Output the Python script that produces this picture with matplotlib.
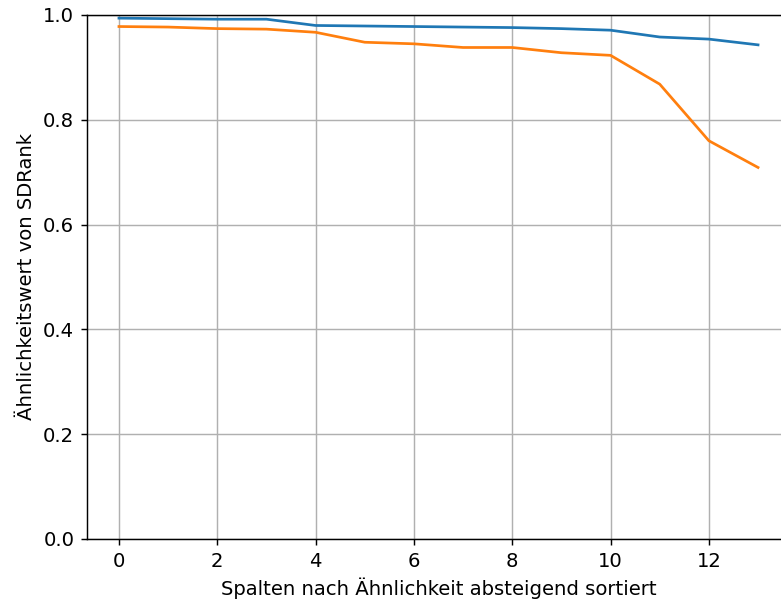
import matplotlib
matplotlib.use("Agg")
import matplotlib.pyplot as plt

x = list(range(14))
blue_vals = [0.994, 0.993, 0.992, 0.992, 0.980, 0.979, 0.978, 0.977,
             0.976, 0.974, 0.971, 0.958, 0.954, 0.943]
orange_vals = [0.978, 0.977, 0.974, 0.973, 0.967, 0.948, 0.945, 0.938,
               0.938, 0.928, 0.923, 0.868, 0.760, 0.709]

plt.rcParams['font.size'] = 10.9

dpi = 130
fig = plt.figure(figsize=(781 / dpi, 603 / dpi), dpi=dpi)
ax = fig.add_axes([87 / 781, 64 / 603, 703 / 781, 524 / 603])

ax.plot(x, blue_vals, color='#1f77b4')
ax.plot(x, orange_vals, color='#ff7f0e')

ax.set_xlim(-0.65, 13.65)
ax.set_ylim(0, 1.0)
ax.grid(True)
ax.set_xlabel('Spalten nach Ähnlichkeit absteigend sortiert')
ax.set_ylabel('Ähnlichkeitswert von SDRank')

fig.savefig('out.png', dpi=dpi)
